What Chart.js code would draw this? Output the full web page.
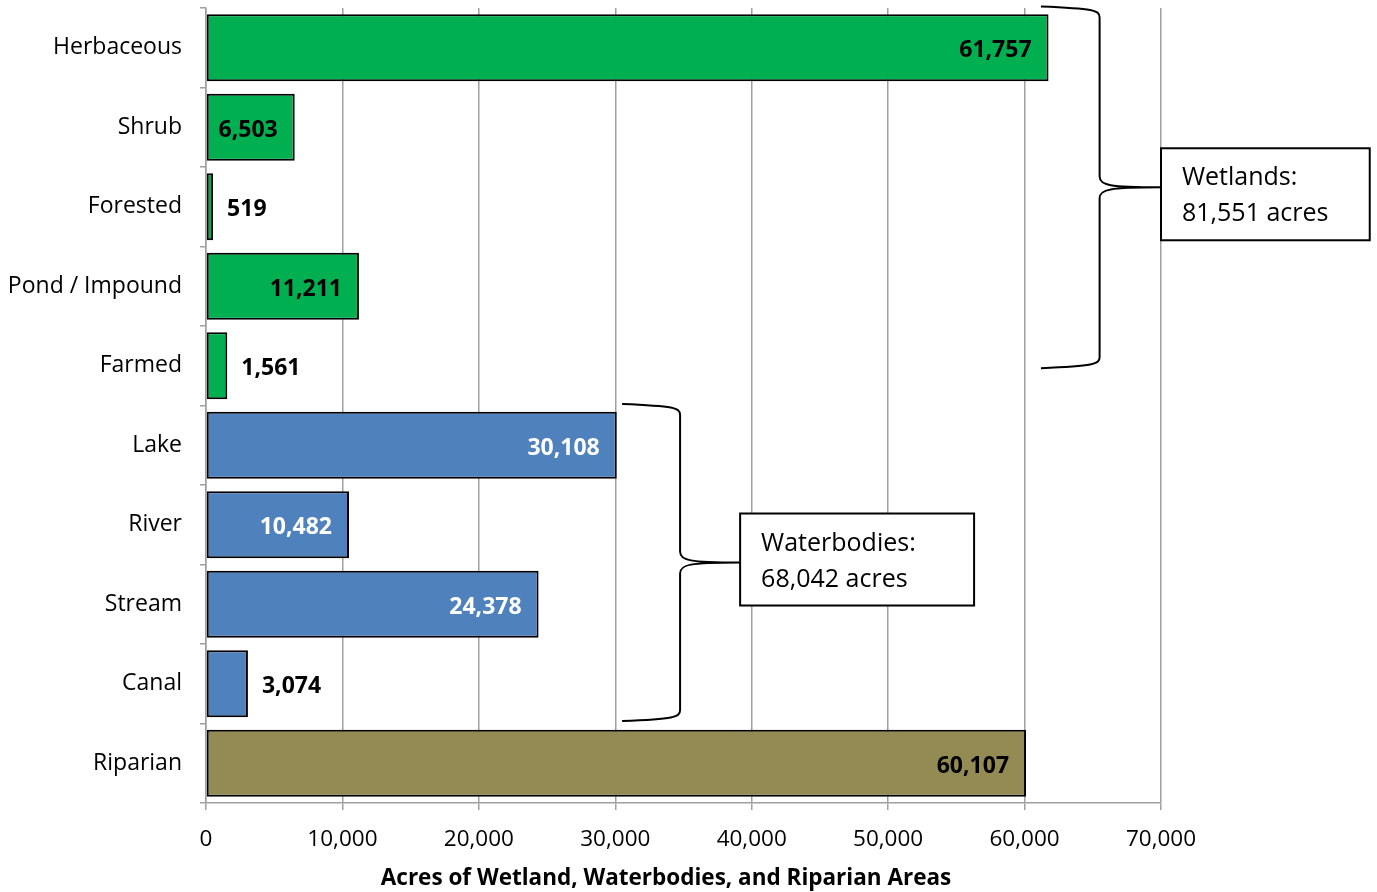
<!DOCTYPE html>
<html>
<head>
<meta charset="utf-8">
<script src="https://cdn.jsdelivr.net/npm/chart.js@4.4.1/dist/chart.umd.min.js"></script>
<style>
  html, body { margin: 0; padding: 0; background: #fff; }
  #wrap { width: 1377px; height: 892px; position: relative; }
</style>
</head>
<body>
<div id="wrap"><canvas id="chartAreas"></canvas></div>
<script>
// ── Datos ──
const categories = ['Herbaceous', 'Shrub', 'Forested', 'Pond / Impound', 'Farmed',
                    'Lake', 'River', 'Stream', 'Canal', 'Riparian'];
const acres      = [61757, 6503, 519, 11211, 1561, 30108, 10482, 24378, 3074, 60107];
const groups     = ['wet', 'wet', 'wet', 'wet', 'wet', 'water', 'water', 'water', 'water', 'rip'];
const xTicks     = [0, 10000, 20000, 30000, 40000, 50000, 60000, 70000];
const axisTitle  = 'Acres of Wetland, Waterbodies, and Riparian Areas';
const groupNames = { wet: 'Wetlands', water: 'Waterbodies' };

// ── Estilos ──
const FILL      = { wet: '#00B050', water: '#4F81BD', rip: '#948A54' };
const LABEL_CLR = { wet: '#000000', water: '#FFFFFF', rip: '#000000' };
const gridColor = '#A0A0A0';
const family    = "'Open Sans', 'Noto Sans', sans-serif";

// posición de las llaves (en unidades de datos / índice de categoría)
const BRACES = [
    { group: 'wet',   top: -0.52, bottom: 4.03, x0: 61200, xv: 65500, xTip: 70000, boxW: 15300, boxDy: 7 },
    { group: 'water', top: 4.48,  bottom: 8.47, x0: 30500, xv: 34750, xTip: 39150, boxW: 17150, boxDy: -3 }
];

const fmt = v => v.toLocaleString('en-US');

function groupTotal(g) {
    return acres.reduce((s, v, i) => groups[i] === g ? s + v : s, 0);
}

// ── Etiquetas de valor ──
const valueLabels = {
    id: 'valueLabels',
    afterDatasetsDraw(chart) {
        const ctx  = chart.ctx;
        const meta = chart.getDatasetMeta(0);
        ctx.save();
        ctx.font = `bold 23px ${family}`;
        ctx.textBaseline = 'middle';
        meta.data.forEach((bar, i) => {
            const txt = fmt(acres[i]);
            const w   = ctx.measureText(txt).width;
            const len = bar.x - bar.base;
            if (w + 28 < len) {
                ctx.textAlign = 'right';
                ctx.fillStyle = LABEL_CLR[groups[i]];
                ctx.fillText(txt, bar.x - 17, bar.y + 3);
            } else {
                ctx.textAlign = 'left';
                ctx.fillStyle = '#000';
                ctx.fillText(txt, bar.x + 14, bar.y + 3);
            }
        });
        ctx.restore();
    }
};

// ── Llaves y cuadros ──
const braces = {
    id: 'braces',
    afterDraw(chart) {
        const ctx = chart.ctx;
        const xs = chart.scales.x, ys = chart.scales.y;
        ctx.save();
        BRACES.forEach(b => {
            const x0 = xs.getPixelForValue(b.x0);
            const xv = xs.getPixelForValue(b.xv);
            const xt = xs.getPixelForValue(b.xTip);
            const yt = ys.getPixelForValue(b.top);
            const yb = ys.getPixelForValue(b.bottom);
            const ym = (yt + yb) / 2;
            const r  = 11;

            ctx.strokeStyle = '#000';
            ctx.lineWidth = 2;
            ctx.beginPath();
            ctx.moveTo(x0, yt);
            ctx.bezierCurveTo(x0 + (xv - x0) * 0.9, yt + 2, xv, yt + 4, xv, yt + r);
            ctx.lineTo(xv, ym - r);
            ctx.bezierCurveTo(xv, ym - 2, xv + (xt - xv) * 0.15, ym, xt, ym);
            ctx.moveTo(xt, ym);
            ctx.bezierCurveTo(xv + (xt - xv) * 0.15, ym, xv, ym + 2, xv, ym + r);
            ctx.lineTo(xv, yb - r);
            ctx.bezierCurveTo(xv, yb - 4, x0 + (xv - x0) * 0.9, yb - 2, x0, yb);
            ctx.stroke();

            // cuadro
            const bw = xs.getPixelForValue(b.xTip + b.boxW) - xt;
            const bh = 92;
            const by = ym - bh / 2 + b.boxDy;
            ctx.fillStyle = '#fff';
            ctx.fillRect(xt, by, bw, bh);
            ctx.strokeRect(xt, by, bw, bh);

            ctx.fillStyle = '#000';
            ctx.font = `25px ${family}`;
            ctx.textAlign = 'left';
            ctx.textBaseline = 'middle';
            ctx.fillText(groupNames[b.group] + ':', xt + 21, by + 30);
            ctx.fillText(fmt(groupTotal(b.group)) + ' acres', xt + 21, by + 66);
        });

        // título del eje x
        ctx.font = `bold 22.5px ${family}`;
        ctx.textAlign = 'center';
        ctx.textBaseline = 'middle';
        ctx.fillStyle = '#000';
        ctx.fillText(axisTitle, 666, 879);
        ctx.restore();
    }
};

new Chart(document.getElementById('chartAreas'), {
    type: 'bar',
    data: {
        labels: categories,
        datasets: [{
            label: 'Acres',
            data: acres,
            backgroundColor: groups.map(g => FILL[g]),
            borderColor: '#000',
            borderWidth: 2,
            borderSkipped: false,
            barPercentage: 0.84,
            categoryPercentage: 1.0
        }]
    },
    options: {
        indexAxis: 'y',
        responsive: true,
        maintainAspectRatio: false,
        animation: false,
        layout: { padding: { top: 8, right: 216, bottom: 0, left: 0 } },
        plugins: {
            legend: { display: false },
            tooltip: { enabled: false }
        },
        scales: {
            x: {
                min: 0,
                max: 70000,
                afterBuildTicks: s => { s.ticks = xTicks.map(v => ({ value: v })); },
                afterFit: s => { s.height = 89; s.paddingLeft = 0; s.paddingRight = 0; },
                grid: { color: gridColor, lineWidth: 1.5, tickLength: 7 },
                border: { color: gridColor, width: 1.5 },
                ticks: {
                    color: '#000',
                    padding: 16,
                    font: { family, size: 22.5 },
                    callback: v => fmt(v)
                }
            },
            y: {
                afterFit: s => { s.width = 206; s.paddingTop = 0; s.paddingBottom = 0; },
                grid: { drawOnChartArea: false, color: gridColor, lineWidth: 1.5, tickLength: 6 },
                border: { color: gridColor, width: 1.5 },
                ticks: {
                    color: '#000',
                    padding: 18,
                    font: { family, size: 23 }
                }
            }
        }
    },
    plugins: [valueLabels, braces]
});
</script>
</body>
</html>
